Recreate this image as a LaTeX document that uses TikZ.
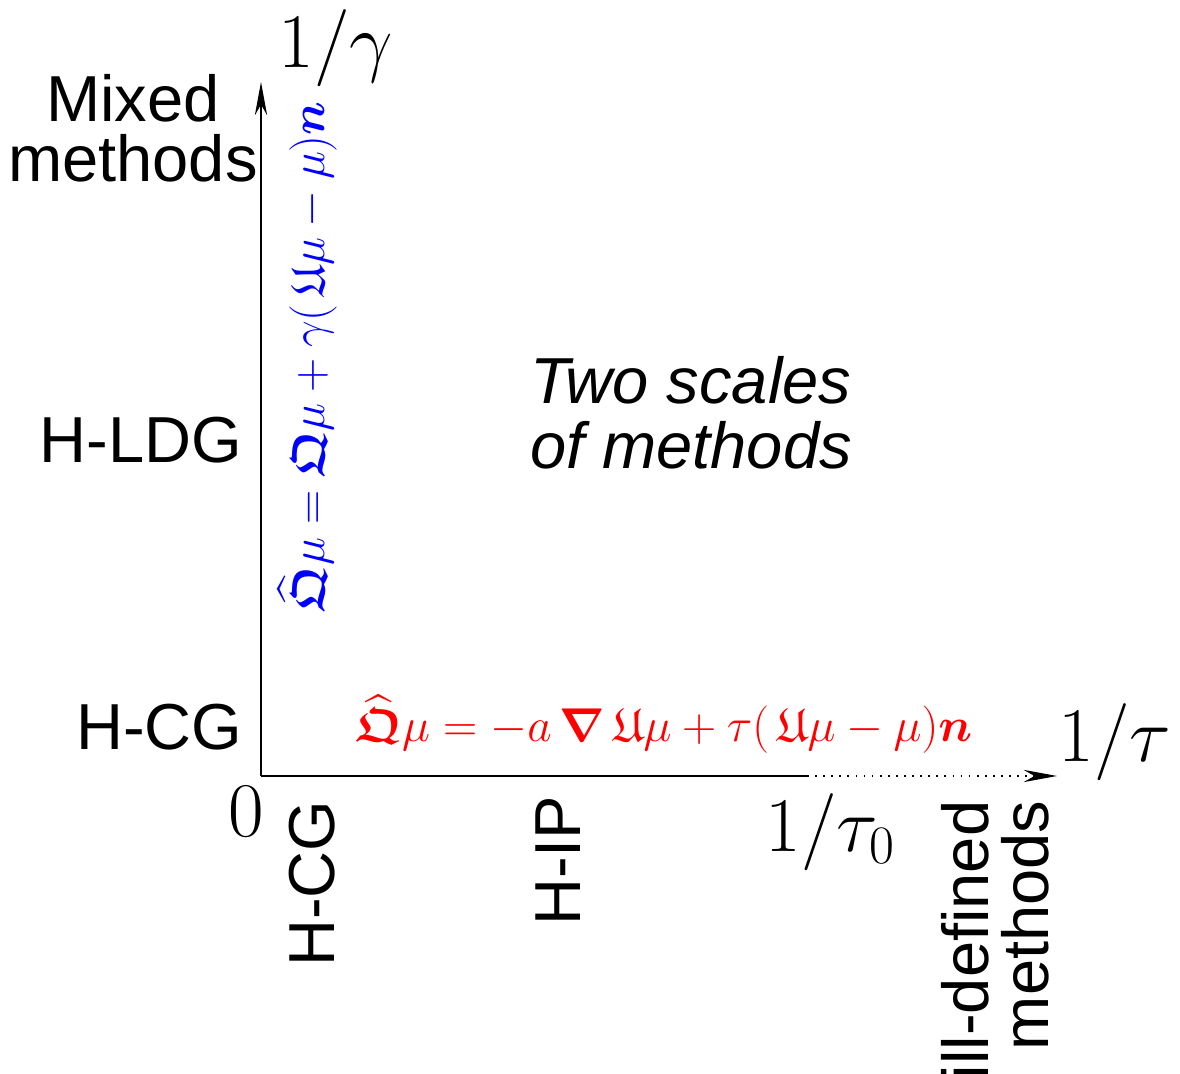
\RequirePackage{fix-cm}
\documentclass[tikz,border=0pt]{standalone}
\usepackage{amsmath,amssymb}
\usepackage{fontspec}
\setsansfont{Liberation Sans}
\usetikzlibrary{arrows.meta}

\tikzset{
  lab/.style={font=\sffamily\fontsize{37}{34}\selectfont,inner sep=0pt},
  axlab/.style={font=\fontsize{44}{48}\selectfont,inner sep=0pt},
  flux/.style={font=\fontsize{27}{30}\selectfont,inner sep=0pt},
  dotline/.style={dash pattern=on 1pt off 3.6pt},
}

\begin{document}
\begin{tikzpicture}[>={Stealth[length=19pt,width=7pt]},line width=0.8pt]
\useasboundingbox (-5.22,-5.96) rectangle (18.38,15.52);

% axes
\coordinate (origin) at (0,0);
\coordinate (ytip) at (0,13.88);
\coordinate (tauzero) at (10.92,0);
\coordinate (xtip) at (15.92,0);
\draw[->] (origin) -- (ytip);
\draw (origin) -- (tauzero);
\draw[->,dotline] (tauzero) -- (xtip);

\node[axlab,anchor=base west] (gam) at (0.34,14.16) {$1/\gamma$};
\node[axlab,anchor=base west] (tau) at (15.94,0.28) {$1/\tau$};
\node[axlab,anchor=base west] (tauzerolab) at (10.08,-1.52) {$1/\tau_0$};
\node[axlab,anchor=base west] (zero) at (-0.66,-1.22) {$0$};

\node[lab,align=center] (mixed) at (-2.56,12.96) {Mixed\\methods};
\node[lab,anchor=base east] (hldg) at (-0.36,6.26) {H-LDG};
\node[lab,anchor=base east] (hcg) at (-0.36,0.52) {H-CG};
\node[lab,rotate=90,anchor=base east] (hcgx) at (1.48,-0.48) {H-CG};
\node[lab,rotate=90,anchor=base east] (hip) at (6.38,-0.38) {H-IP};
\node[lab,rotate=90,align=right,anchor=south east] (ill) at (15.78,-0.48) {ill-defined\\methods};
\node[lab,font=\sffamily\itshape\fontsize{37}{37}\selectfont,align=center] (two) at (8.6,7.26) {Two scales\\of methods};

% fluxes
\node[flux,text=red,anchor=base west] (tauflux) at (1.88,0.68)
  {$\widehat{\boldsymbol{\mathfrak{Q}}}\mu = -a\,\boldsymbol{\nabla}\,\mathfrak{U}\mu + \tau(\,\mathfrak{U}\mu - \mu)\boldsymbol{n}$};
\node[flux,text=blue,rotate=90,anchor=base west] (gamflux) at (1.28,3.26)
  {$\widehat{\boldsymbol{\mathfrak{Q}}}\mu = \boldsymbol{\mathfrak{Q}}\mu + \gamma(\,\mathfrak{U}\mu - \mu)\boldsymbol{n}$};
\end{tikzpicture}
\end{document}
